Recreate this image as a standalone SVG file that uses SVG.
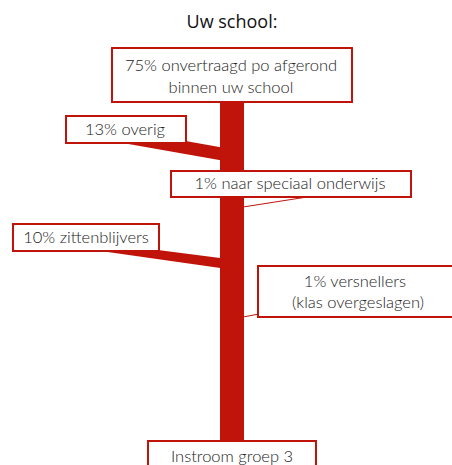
<svg xmlns="http://www.w3.org/2000/svg" width="452" height="465" viewBox="0 0 452 465">
<style>
.box{fill:#fff;stroke:#c0140a;stroke-width:2}
.flow{fill:#c0140a}
.thin{stroke:#c0140a;stroke-width:1;fill:none}
.lbl{font-family:Lato,"Open Sans",sans-serif;font-size:16.5px;font-weight:300;fill:#222;text-anchor:middle}
.title{font-family:"Open Sans","Noto Sans",sans-serif;font-size:18px;fill:#111;text-anchor:middle}
</style>
<rect width="452" height="465" fill="#fff"/>
<text class="title" x="232" y="28">Uw school:</text>
<g id="connectors">
<rect class="flow" x="220" y="100" width="24" height="342"/>
<polygon class="flow" points="110,127.6 222,147.4 222,160.4 110,140.7"/>
<polygon class="flow" points="90,241.2 222,258.3 222,268.3 90,249.6"/>
<line class="thin" x1="307" y1="197" x2="243" y2="207"/>
<line class="thin" x1="259" y1="314" x2="243" y2="317"/>
</g>
<g id="node-top">
<rect class="box" x="112" y="48" width="240" height="54"/>
<text class="lbl" x="231" y="71">75% onvertraagd po afgerond</text>
<text class="lbl" x="231" y="93">binnen uw school</text>
</g>
<g id="node-overig">
<rect class="box" x="66" y="116" width="120" height="27"/>
<text class="lbl" x="125" y="135">13% overig</text>
</g>
<g id="node-speciaal">
<rect class="box" x="171" y="171" width="240" height="26"/>
<text class="lbl" x="290" y="189">1% naar speciaal onderwijs</text>
</g>
<g id="node-zitten">
<rect class="box" x="13" y="224" width="146" height="27"/>
<text class="lbl" x="86" y="243">10% zittenblijvers</text>
</g>
<g id="node-versnellers">
<rect class="box" x="258" y="266" width="200" height="51"/>
<text class="lbl" x="355" y="287">1% versnellers</text>
<text class="lbl" x="358" y="308">(klas overgeslagen)</text>
</g>
<g id="node-instroom">
<rect class="box" x="148" y="441" width="168" height="40"/>
<text class="lbl" x="232" y="462">Instroom groep 3</text>
</g>
</svg>
